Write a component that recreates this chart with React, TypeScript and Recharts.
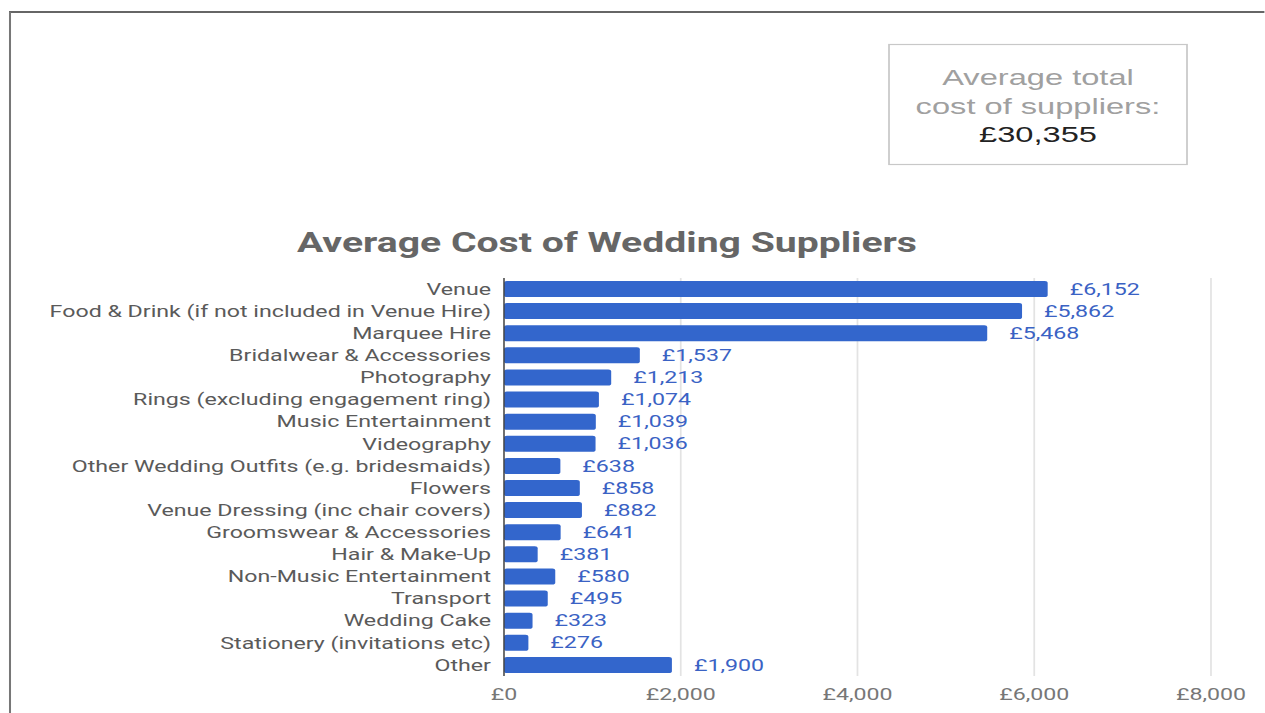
import React from 'react';
import { BarChart, Bar, XAxis, YAxis, CartesianGrid, LabelList } from 'recharts';

const categories = [
  'Venue',
  'Food & Drink (if not included in Venue Hire)',
  'Marquee Hire',
  'Bridalwear & Accessories',
  'Photography',
  'Rings (excluding engagement ring)',
  'Music Entertainment',
  'Videography',
  'Other Wedding Outfits (e.g. bridesmaids)',
  'Flowers',
  'Venue Dressing (inc chair covers)',
  'Groomswear & Accessories',
  'Hair & Make-Up',
  'Non-Music Entertainment',
  'Transport',
  'Wedding Cake',
  'Stationery (invitations etc)',
  'Other',
];
const costs = [6152, 5862, 5468, 1537, 1213, 1074, 1039, 1036, 638, 858, 882, 641, 381, 580, 495, 323, 276, 1900];
const xTicks = [0, 2000, 4000, 6000, 8000];
const chartTitle = 'Average Cost of Wedding Suppliers';
const boxLines = ['Average total', 'cost of suppliers:'];
const totalCost = 30355;

const data = categories.map((name, i) => ({ name, value: costs[i] }));

const fmt = (v: number) => '£' + String(Math.round(v)).replace(/\B(?=(\d{3})+(?!\d))/g, ',');

const SX = 1.45;
const W = 1265 / SX;
const H = 713;
const px = (x: number) => x / SX;

export default function App() {
  return (
    <div style={{ position: 'absolute', left: 0, top: 0, width: 1265, height: H, overflow: 'hidden', background: '#fff' }}>
      <div style={{ position: 'absolute', left: 0, top: 0, width: W, height: H, transform: `scaleX(${SX})`, transformOrigin: '0 0' }}>
        <svg width={W} height={H} style={{ position: 'absolute', left: 0, top: 0 }}>
          <line x1={px(9)} y1={12} x2={W} y2={12} stroke="#333" strokeWidth={1.5} />
          <line x1={px(10)} y1={12} x2={px(10)} y2={H} stroke="#777" strokeWidth={1.4} />
          <rect x={px(889)} y={44.5} width={px(1187) - px(889)} height={120} fill="#fff" stroke="#c8c8c8" strokeWidth={1.2} />
          <text x={px(1038)} y={85} textAnchor="middle" fontFamily="'Liberation Sans', Arial, sans-serif" fontSize={22.5} fill="#a0a0a0">{boxLines[0]}</text>
          <text x={px(1038)} y={114} textAnchor="middle" fontFamily="'Liberation Sans', Arial, sans-serif" fontSize={22.5} fill="#a0a0a0">{boxLines[1]}</text>
          <text x={px(1038)} y={142} textAnchor="middle" fontFamily="'Liberation Sans', Arial, sans-serif" fontSize={22.5} fill="#222">{fmt(totalCost)}</text>
          <text x={px(607)} y={252} textAnchor="middle" fontFamily="Roboto, sans-serif" fontWeight={700} fontSize={27} fill="#666">{chartTitle}</text>
        </svg>
        <div style={{ position: 'absolute', left: 0, top: 0 }}>
          <BarChart
            width={W}
            height={H}
            data={data}
            layout="vertical"
            margin={{ top: 278, right: W - px(1211), bottom: 7, left: 0 }}
            barCategoryGap={3}
            style={{ fontFamily: 'Roboto, sans-serif' }}
          >
            <CartesianGrid horizontal={false} vertical={true} stroke="#e3e3e3" strokeWidth={1.2} />
            <XAxis
              type="number"
              domain={[0, 8000]}
              ticks={xTicks}
              tickFormatter={fmt}
              axisLine={false}
              tickLine={false}
              tickSize={0}
              tickMargin={13}
              height={30}
              tick={{ fill: '#777', fontSize: 16 }}
              interval={0}
            />
            <YAxis
              type="category"
              dataKey="name"
              width={px(504)}
              interval={0}
              axisLine={{ stroke: '#444', strokeWidth: 1 }}
              tickLine={false}
              tickSize={0}
              tickMargin={px(13)}
              tick={{ fill: '#5a5a5a', fontSize: 16 }}
            />
            <Bar dataKey="value" fill="#3366cc" barSize={16} radius={2} isAnimationActive={false}>
              <LabelList dataKey="value" position="right" offset={px(22)} formatter={fmt} fill="#3a62c4" fontSize={16} />
            </Bar>
          </BarChart>
        </div>
      </div>
    </div>
  );
}
